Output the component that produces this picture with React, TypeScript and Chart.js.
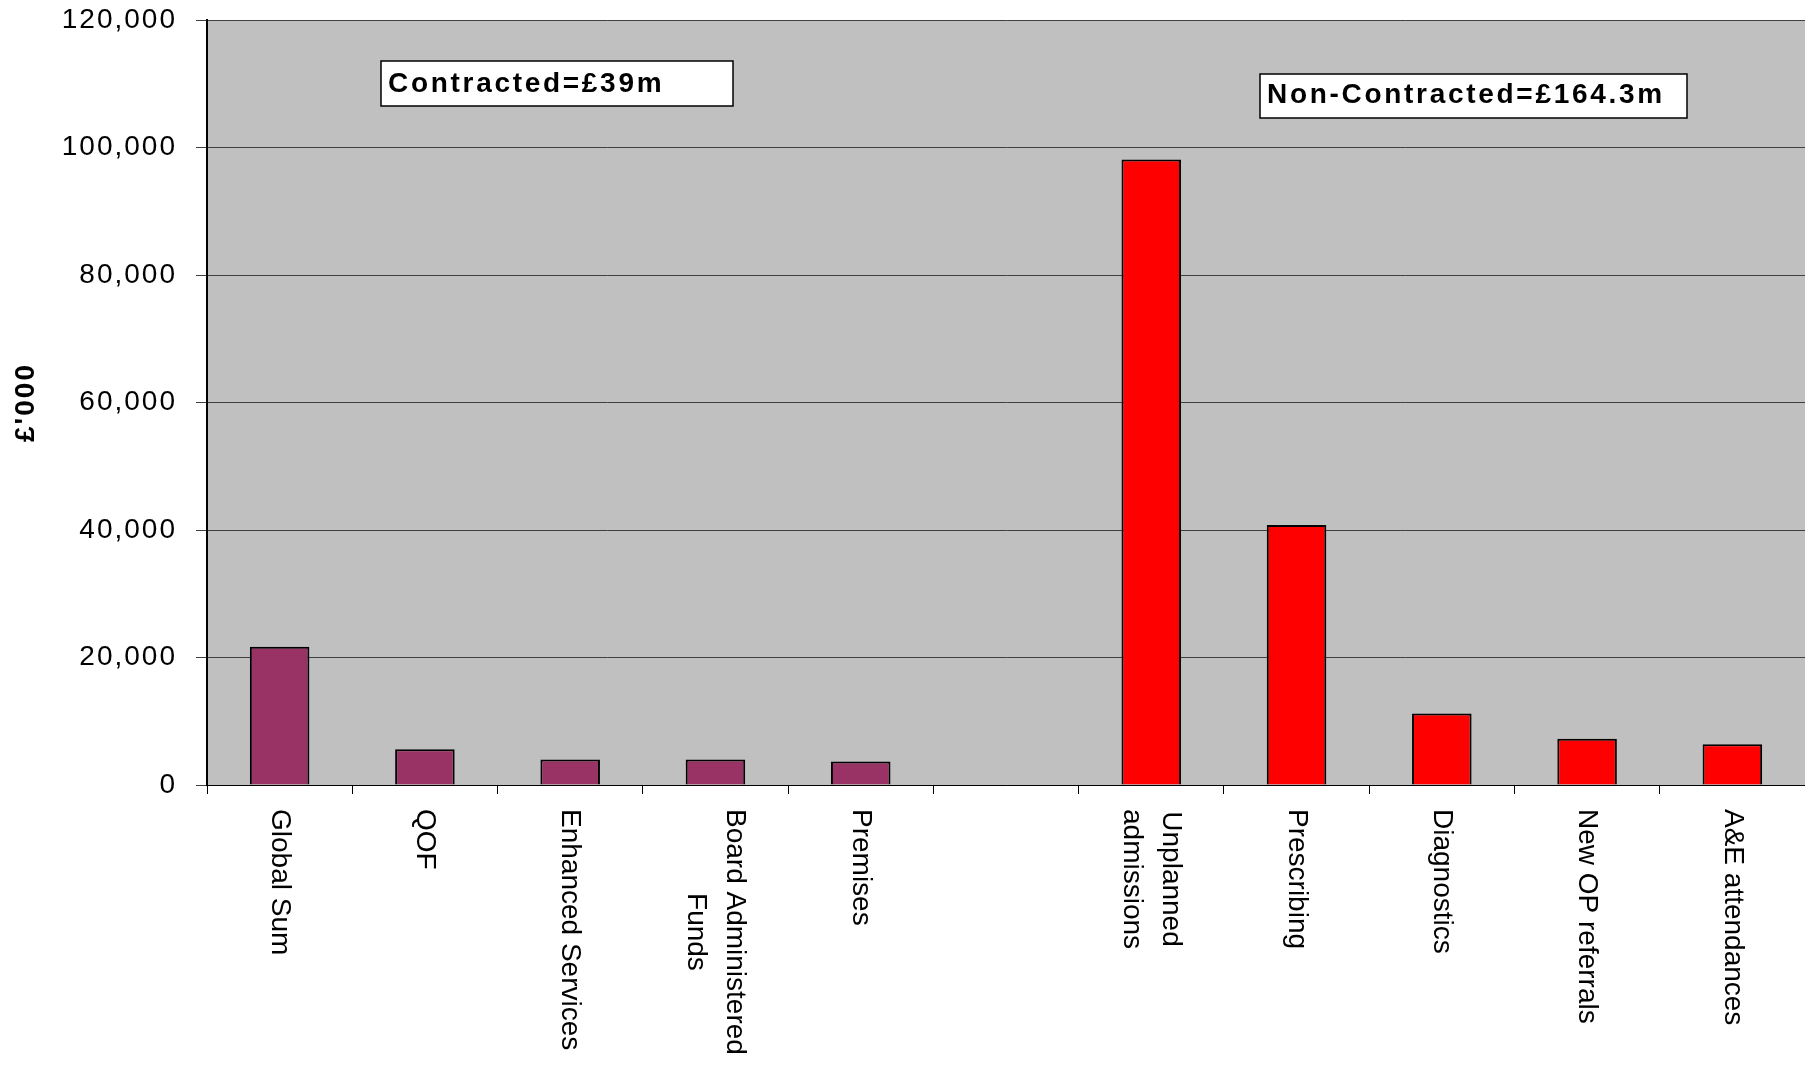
import React, { useEffect, useRef } from "react";
import { Chart, registerables } from "chart.js";

Chart.register(...registerables);

const categories: string[][] = [
  ["Global Sum"],
  ["QOF"],
  ["Enhanced Services"],
  ["Board Administered", "Funds"],
  ["Premises"],
  [""],
  ["Unplanned", "admissions"],
  ["Prescribing"],
  ["Diagnostics"],
  ["New OP referrals"],
  ["A&E attendances"],
];

const contractedValues = [21700, 5600, 4000, 4000, 3700];
const nonContractedValues = [98100, 40800, 11200, 7250, 6400];

const yTickValues = [0, 20000, 40000, 60000, 80000, 100000, 120000];

const contractedLabel = "Contracted=£39m";
const nonContractedLabel = "Non-Contracted=£164.3m";
const yTitle = "£'000";

const FONT = "'Liberation Sans', Arial, sans-serif";

const contractedData: (number | null)[] = categories.map((_, i) =>
  i < contractedValues.length ? contractedValues[i] : null
);
const nonContractedData: (number | null)[] = categories.map((_, i) => {
  const j = i - (categories.length - nonContractedValues.length);
  return j >= 0 ? nonContractedValues[j] : null;
});

const decorPlugin = {
  id: "decor",
  beforeDraw(chart: any) {
    const { ctx, chartArea } = chart;
    ctx.save();
    ctx.fillStyle = "#C0C0C0";
    ctx.fillRect(
      chartArea.left,
      chartArea.top,
      chartArea.right - chartArea.left,
      chartArea.bottom - chartArea.top
    );
    ctx.restore();
    (ctx as any).letterSpacing = "2px";
  },
  beforeDatasetsDraw(chart: any) {
    (chart.ctx as any).letterSpacing = "0px";
  },
  afterDraw(chart: any) {
    const { ctx } = chart;
    const xScale = chart.scales.x;
    ctx.save();
    (ctx as any).letterSpacing = "0px";
    ctx.fillStyle = "#000";
    ctx.font = `28px ${FONT}`;
    const top = 809;
    const lh = 39;
    categories.forEach((lines, i) => {
      if (!lines.join("")) return;
      const x = xScale.getPixelForValue(i);
      const w = Math.max(...lines.map((l) => ctx.measureText(l).width));
      ctx.save();
      ctx.translate(x, top);
      ctx.rotate(Math.PI / 2);
      ctx.textAlign = "center";
      ctx.textBaseline = "middle";
      const n = lines.length;
      lines.forEach((l, k) => {
        ctx.fillText(l, w / 2, (k - (n - 1) / 2) * lh);
      });
      ctx.restore();
    });

    const boxes = [
      { text: contractedLabel, x: 381, y: 61, w: 352, h: 45, tx: 388, ty: 92 },
      { text: nonContractedLabel, x: 1260, y: 74, w: 427, h: 44, tx: 1267, ty: 103 },
    ];
    boxes.forEach((b) => {
      ctx.fillStyle = "#FFFFFF";
      ctx.fillRect(b.x, b.y, b.w, b.h);
      ctx.strokeStyle = "#000";
      ctx.lineWidth = 1.5;
      ctx.strokeRect(b.x, b.y, b.w, b.h);
      ctx.fillStyle = "#000";
      ctx.font = `bold 28px ${FONT}`;
      (ctx as any).letterSpacing = "2.7px";
      ctx.textAlign = "left";
      ctx.textBaseline = "alphabetic";
      ctx.fillText(b.text, b.tx, b.ty);
    });
    ctx.restore();
  },
};

export default function App() {
  const ref = useRef<HTMLCanvasElement | null>(null);
  useEffect(() => {
    if (!ref.current) return;
    const chart = new Chart(ref.current, {
      type: "bar",
      data: {
        labels: categories.map((c) => c.join(" ")),
        datasets: [
          {
            label: "Contracted",
            data: contractedData,
            backgroundColor: "#993366",
            borderColor: "#000000",
            borderWidth: 2,
            barPercentage: 0.41,
            categoryPercentage: 1,
          },
          {
            label: "Non-Contracted",
            data: nonContractedData,
            backgroundColor: "#FF0000",
            borderColor: "#000000",
            borderWidth: 2,
            barPercentage: 0.41,
            categoryPercentage: 1,
          },
        ],
      },
      options: {
        animation: false,
        responsive: false,
        maintainAspectRatio: false,
        devicePixelRatio: 1,
        layout: { padding: { top: 0, right: 0, bottom: 0, left: 0 } },
        plugins: {
          legend: { display: false },
          tooltip: { enabled: false },
          title: { display: false },
        },
        scales: {
          x: {
            stacked: true,
            offset: true,
            grid: {
              display: true,
              drawOnChartArea: false,
              drawTicks: true,
              tickLength: 9,
              color: "#000",
              lineWidth: 1,
              offset: true,
            },
            border: { display: true, color: "#000", width: 1 },
            ticks: { display: false },
            afterFit: (s: any) => {
              s.height = 281;
              s.paddingLeft = 0;
              s.paddingRight = 0;
            },
          },
          y: {
            stacked: true,
            min: 0,
            max: 120000,
            afterBuildTicks: (s: any) => {
              s.ticks = yTickValues.map((v) => ({ value: v }));
            },
            ticks: {
              color: "#000",
              padding: 19,
              font: { family: FONT, size: 28 },
              callback: (v: any) => Number(v).toLocaleString("en-GB"),
            },
            grid: {
              color: "#404040",
              lineWidth: 1,
              drawTicks: true,
              tickLength: 11,
            },
            border: { display: true, color: "#000", width: 2 },
            title: {
              display: true,
              text: yTitle,
              color: "#000",
              font: { family: FONT, size: 28, weight: "bold" },
              padding: { top: 9, bottom: 0 },
            },
            afterFit: (s: any) => {
              s.width = 207;
              s.paddingTop = 20;
              s.paddingBottom = 0;
            },
          },
        },
      },
      plugins: [decorPlugin],
    });
    return () => chart.destroy();
  }, []);
  return (
    <div style={{ position: "absolute", left: 0, top: 0, width: 1805, height: 1066, background: "#fff" }}>
      <canvas ref={ref} width={1805} height={1066} style={{ width: 1805, height: 1066 }} />
    </div>
  );
}
